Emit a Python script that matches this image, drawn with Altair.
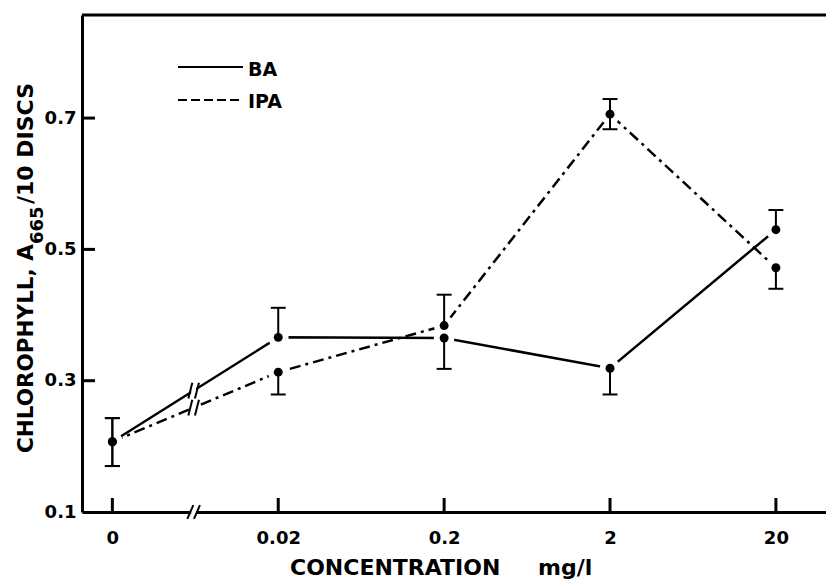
import json
import altair as alt
import pandas as pd

# ---------------- data ----------------
concentrations = ["0", "0.02", "0.2", "2", "20"]
positions = [0, 1, 2, 3, 4]
ba_values = [0.207, 0.366, 0.365, 0.319, 0.530]
ipa_values = [0.207, 0.313, 0.384, 0.706, 0.472]
ba_err_low = [0.170, None, 0.318, 0.279, None]
ba_err_high = [0.243, 0.411, None, None, 0.560]
ipa_err_low = [0.170, 0.279, None, 0.683, 0.440]
ipa_err_high = [0.243, None, 0.431, 0.729, None]
y_ticks = [0.1, 0.3, 0.5, 0.7]
break_pos = 0.49

# ---------------- layout ----------------
W, H = 744, 497
X_DOM = [-0.183, 4.302]
Y_DOM = [0.1, 0.857]
FONT = "DejaVu Sans"

xs = alt.Scale(domain=X_DOM, nice=False, zero=False)
ys = alt.Scale(domain=Y_DOM, nice=False, zero=False)

x_axis = alt.Axis(values=positions,
                  labelExpr=json.dumps(concentrations) + "[datum.value]",
                  title=None, grid=False, ticks=False, tickSize=0,
                  domainColor="black", domainWidth=3,
                  labelFont=FONT, labelFontWeight="bold", labelFontSize=18,
                  labelColor="black", labelPadding=17,
                  labelFlush=False, labelOverlap=False)
y_axis = alt.Axis(values=y_ticks, format=".1f",
                  title=None, grid=False, ticks=False, tickSize=0,
                  domainColor="black", domainWidth=3,
                  labelFont=FONT, labelFontWeight="bold", labelFontSize=18,
                  labelColor="black", labelPadding=6,
                  labelFlush=False, labelOverlap=False)


def X(field):
    return alt.X(field, scale=xs, axis=x_axis)


def Y(field):
    return alt.Y(field, scale=ys, axis=y_axis)


series = {"BA": ba_values, "IPA": ipa_values}
lows = {"BA": ba_err_low, "IPA": ipa_err_low}
highs = {"BA": ba_err_high, "IPA": ipa_err_high}

pts = pd.DataFrame([{"series": s, "x": p, "y": v}
                    for s, vals in series.items()
                    for p, v in zip(positions, vals)])
ba_df = pts[pts.series == "BA"]
ipa_df = pts[pts.series == "IPA"]

err_rows = []
CAP = 0.045
for s in series:
    for p, v, lo, hi in zip(positions, series[s], lows[s], highs[s]):
        for end in (lo, hi):
            if end is not None:
                err_rows.append({"x": p, "y": v, "yend": end,
                                 "xl": p - CAP, "xr": p + CAP})
err_df = pd.DataFrame(err_rows)

# break marks on each series line and on the x axis
SL_DX, SL_DY, SL_SEP = 0.012, 0.012, 0.02
AX_DX, AX_DY, AX_SEP = 0.018, 0.0105, 0.02
brk_rows, gap_rows = [], []
for s, vals in series.items():
    yc = vals[0] + break_pos * (vals[1] - vals[0])
    gap_rows.append({"x": break_pos, "y1": yc - 0.009, "y2": yc + 0.009})
    for off in (-SL_SEP, SL_SEP):
        xc = break_pos + off
        brk_rows.append({"x1": xc - SL_DX, "x2": xc + SL_DX,
                         "y1": yc - SL_DY, "y2": yc + SL_DY})
gap_rows.append({"x": break_pos, "y1": Y_DOM[0] - 0.004, "y2": Y_DOM[0] + 0.004})
for off in (-AX_SEP, AX_SEP):
    xc = break_pos + off
    brk_rows.append({"x1": xc - AX_DX, "x2": xc + AX_DX,
                     "y1": Y_DOM[0] - AX_DY, "y2": Y_DOM[0] + AX_DY})
brk_df = pd.DataFrame(brk_rows)
gap_df = pd.DataFrame(gap_rows)

# ---------------- layers ----------------
ba_line = alt.Chart(ba_df).mark_line(color="black", strokeWidth=2.5).encode(
    x=X("x:Q"), y=Y("y:Q"), order="x:Q")
ipa_line = alt.Chart(ipa_df).mark_line(color="black", strokeWidth=2.5,
                                       strokeDash=[11, 5, 3, 5]).encode(
    x=X("x:Q"), y=Y("y:Q"), order="x:Q")

gaps = alt.Chart(gap_df).mark_rule(strokeWidth=5).encode(
    x=X("x:Q"), y=Y("y1:Q"), y2="y2:Q", color=alt.value("white"))
breaks = alt.Chart(brk_df).mark_rule(color="black", strokeWidth=2).encode(
    x=X("x1:Q"), x2="x2:Q", y=Y("y1:Q"), y2="y2:Q")

halos = alt.Chart(pts).mark_point(filled=True, shape="circle", opacity=1,
                                  size=430).encode(
    x=X("x:Q"), y=Y("y:Q"), color=alt.value("white"))
stems = alt.Chart(err_df).mark_rule(color="black", strokeWidth=2).encode(
    x=X("x:Q"), y=Y("y:Q"), y2="yend:Q")
caps = alt.Chart(err_df).mark_rule(color="black", strokeWidth=2).encode(
    x=X("xl:Q"), x2="xr:Q", y=Y("yend:Q"))
dots = alt.Chart(pts).mark_point(filled=True, shape="circle", opacity=1,
                                 size=80).encode(
    x=X("x:Q"), y=Y("y:Q"), color=alt.value("black"))

# inward ticks
ytick_df = pd.DataFrame({"y": [t for t in y_ticks if t > Y_DOM[0]]})
yticks = alt.Chart(ytick_df).mark_rule(color="black", strokeWidth=3).encode(
    y=Y("y:Q"), x=alt.value(0), x2=alt.value(13))
xtick_df = pd.DataFrame({"x": positions})
xticks = alt.Chart(xtick_df).mark_rule(color="black", strokeWidth=3).encode(
    x=X("x:Q"), y=alt.value(H), y2=alt.value(H - 14))

# top frame line
top = alt.Chart(alt.Data(values=[{}])).mark_rule(color="black", strokeWidth=3).encode(
    x=alt.value(0), x2=alt.value(W), y=alt.value(0))

# legend
leg_ba = alt.Chart(alt.Data(values=[{}])).mark_rule(color="black", strokeWidth=2).encode(
    x=alt.value(96), x2=alt.value(161), y=alt.value(52))
leg_ipa = alt.Chart(alt.Data(values=[{}])).mark_rule(
    color="black", strokeWidth=2, strokeDash=[9, 4]).encode(
    x=alt.value(96), x2=alt.value(161), y=alt.value(85))


def label(txt, x, y, size, angle=0):
    kw = dict(align="left", baseline="alphabetic", font=FONT, fontWeight="bold",
              fontSize=size, color="black")
    if angle:
        kw["angle"] = angle
    return alt.Chart(alt.Data(values=[{"t": txt}])).mark_text(**kw).encode(
        text="t:N", x=alt.value(x), y=alt.value(y))


leg_t1 = label("BA", 166, 61, 19)
leg_t2 = label("IPA", 166, 93, 19)

yt1 = label("CHLOROPHYLL, A", -49, 438, 21.5, 270)
yt2 = label("665", -39, 229, 18, 270)
yt3 = label("/10 DISCS", -49, 189, 22, 270)

xt1 = label("CONCENTRATION", 208, 560, 22)
xt2 = label("mg/l", 456, 560, 22)

chart = alt.layer(
    ba_line, ipa_line, gaps, breaks, halos, stems, caps, dots,
    yticks, xticks, top, leg_ba, leg_ipa, leg_t1, leg_t2,
    yt1, yt2, yt3, xt1, xt2,
).properties(
    width=W, height=H,
    padding={"left": 74, "top": 7, "right": 0, "bottom": 70},
    autosize=alt.AutoSizeParams(type="none"),
    background="white",
).configure_view(stroke=None)

chart.save("out.html", embed_options={"renderer": "svg", "actions": False})
